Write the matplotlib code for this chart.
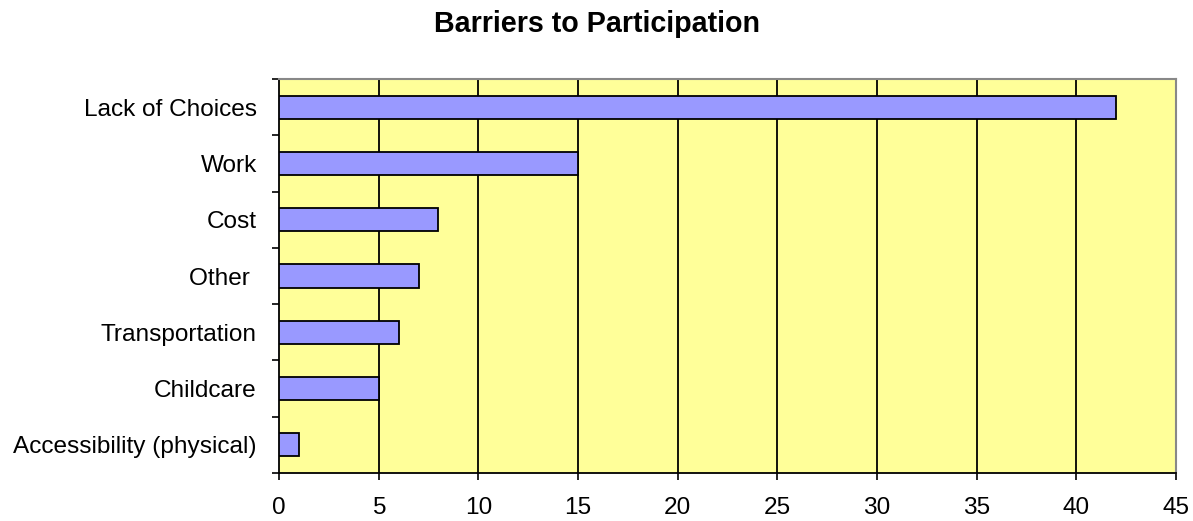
import numpy as np
import matplotlib.pyplot as plt

plt.rcParams['font.family'] = ['Liberation Sans', 'DejaVu Sans']

categories = ['Accessibility (physical)', 'Childcare', 'Transportation',
              'Other ', 'Cost', 'Work', 'Lack of Choices']
counts = [1, 5, 6, 7, 8, 15, 42]
xticks = [0, 5, 10, 15, 20, 25, 30, 35, 40, 45]

fig = plt.figure(figsize=(11.93, 5.21), dpi=100)
ax = fig.add_axes([0.2339, 0.092, 0.7518, 0.7564])
ax.set_facecolor('#FFFF99')

pos = np.arange(len(categories))
ax.barh(pos, counts, height=0.41, color='#9999FF', edgecolor='black',
        linewidth=1.3, zorder=3)

ax.set_xlim(0, 45)
ax.set_ylim(-0.5, len(categories) - 0.5)
ax.set_xticks(xticks)
ax.set_xticklabels([str(v) for v in xticks], fontsize=17.6)
for v in xticks[1:-1]:
    ax.axvline(v, color='black', linewidth=1.3, zorder=1)

# labels at bar centres, tick marks on category boundaries
ax.set_yticks(pos)
ax.set_yticklabels(categories, fontsize=17.6)
ax.set_yticks(np.arange(-0.5, len(categories)), minor=True)
ax.tick_params(axis='y', which='major', length=0, pad=16)
ax.tick_params(axis='y', which='minor', length=5, width=1.2, direction='out')
ax.tick_params(axis='x', length=5, width=1.2, direction='out', pad=12)

for side in ['top', 'right']:
    ax.spines[side].set_color('#888888')
    ax.spines[side].set_linewidth(1.5)
for side in ['left', 'bottom']:
    ax.spines[side].set_color('black')
    ax.spines[side].set_linewidth(1.3)

fig.text(0.5, 0.9386, 'Barriers to Participation', ha='center', va='baseline',
         fontsize=20.6, fontweight='bold')

fig.savefig('out.png', dpi=100)
